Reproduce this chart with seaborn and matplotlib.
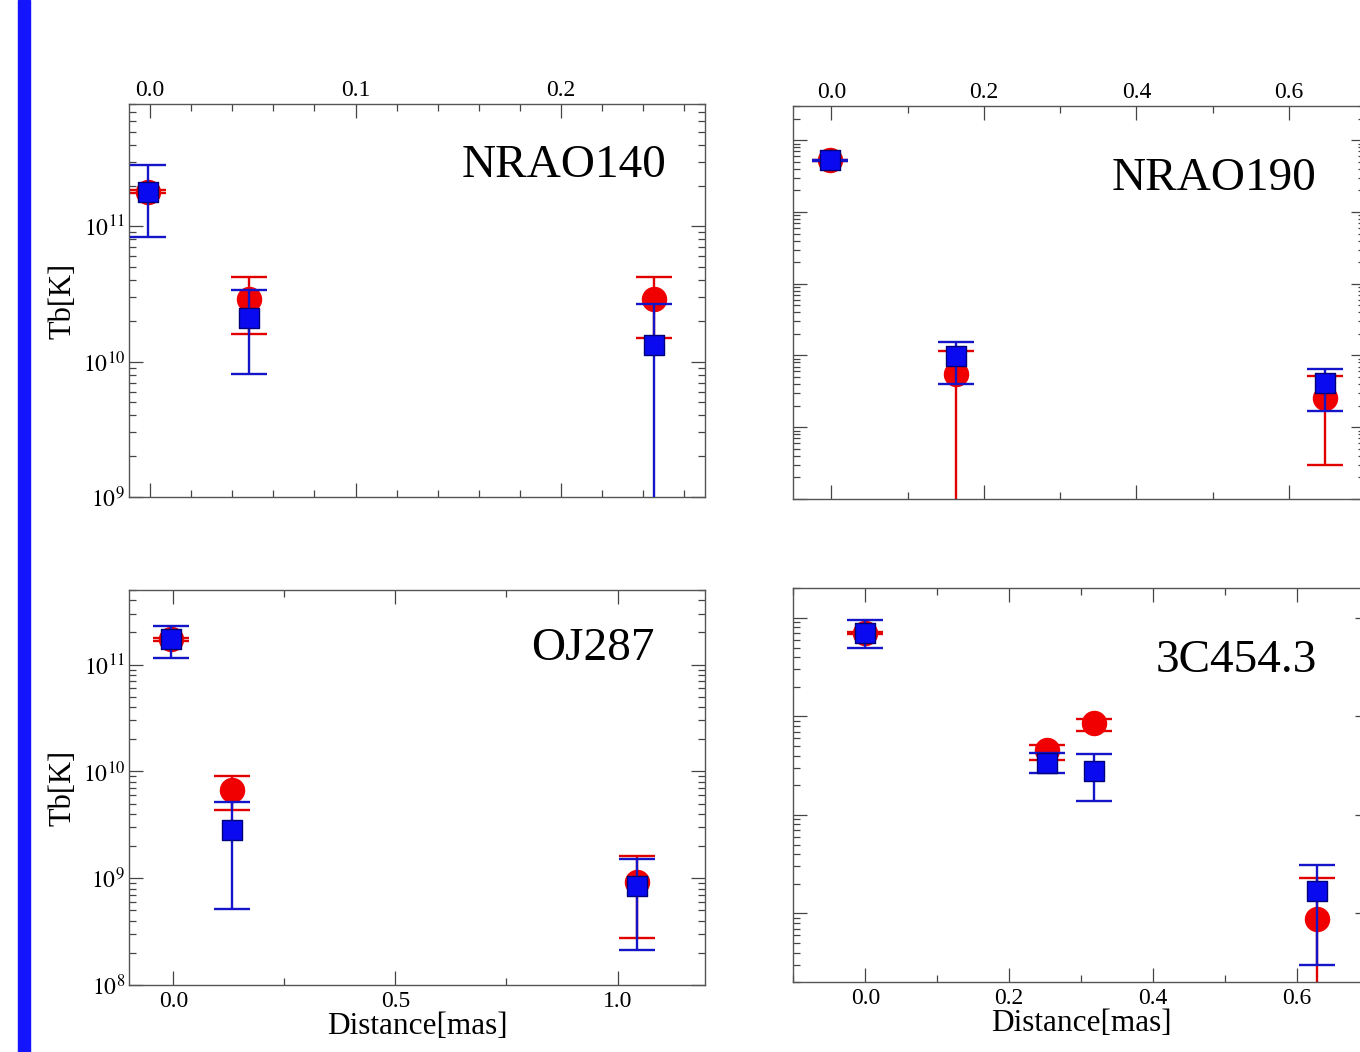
import numpy as np
import seaborn as sns
import matplotlib.pyplot as plt
from matplotlib.patches import Rectangle
from matplotlib.ticker import (MultipleLocator, LogLocator, NullFormatter,
                               FuncFormatter, FormatStrFormatter)

# --- data (Tb in K, distance in mas) ---
# red circles / blue squares, with lower and upper ends of the error bars
# a lower end of 1e5 means the bar runs off the bottom of the panel

nrao140_x = [-0.001, 0.048, 0.245]
nrao140_red = [1.8e11, 2.9e10, 2.9e10]
nrao140_red_lo = [1.75e11, 1.6e10, 1.5e10]
nrao140_red_hi = [1.85e11, 4.2e10, 4.2e10]
nrao140_blue = [1.8e11, 2.1e10, 1.33e10]
nrao140_blue_lo = [8.3e10, 8.1e9, 1e5]
nrao140_blue_hi = [2.85e11, 3.4e10, 2.65e10]

nrao190_x = [-0.002, 0.1635, 0.648]
nrao190_red = [5.25e11, 5.6e8, 2.57e8]
nrao190_red_lo = [5.15e11, 1e3, 2.96e7]
nrao190_red_hi = [5.35e11, 1.14e9, 5.1e8]
nrao190_blue = [5.25e11, 9.7e8, 4.1e8]
nrao190_blue_lo = [5.15e11, 4.0e8, 1.67e8]
nrao190_blue_hi = [5.35e11, 1.54e9, 6.5e8]

oj287_x = [-0.005, 0.133, 1.045]
oj287_red = [1.72e11, 6.7e9, 9.2e8]
oj287_red_lo = [1.68e11, 4.37e9, 2.75e8]
oj287_red_hi = [1.76e11, 9.1e9, 1.6e9]
oj287_blue = [1.72e11, 2.84e9, 8.5e8]
oj287_blue_lo = [1.16e11, 5.1e8, 2.15e8]
oj287_blue_hi = [2.3e11, 5.2e9, 1.5e9]

c3c454_x = [0.0, 0.252, 0.3185, 0.628]
c3c454_red = [7.1e11, 4.6e10, 8.6e10, 8.7e8]
c3c454_red_lo = [6.95e11, 3.63e10, 7.2e10, 1e5]
c3c454_red_hi = [7.25e11, 5.16e10, 9.5e10, 2.27e9]
c3c454_blue = [7.1e11, 3.37e10, 2.8e10, 1.7e9]
c3c454_blue_lo = [4.9e11, 2.66e10, 1.39e10, 3.0e8]
c3c454_blue_hi = [9.6e11, 4.25e10, 4.2e10, 3.1e9]

sns.set_style("white")
plt.rcParams['font.family'] = ['Liberation Serif', 'DejaVu Serif']
plt.rcParams['mathtext.fontset'] = 'stix'
plt.rcParams['text.color'] = 'black'
plt.rcParams['axes.labelcolor'] = 'black'
plt.rcParams['xtick.labelcolor'] = 'black'
plt.rcParams['ytick.labelcolor'] = 'black'

RED = '#f00000'
BLUE = '#0a0af0'

fig = plt.figure(figsize=(13.6, 10.52), dpi=100)
fig.add_artist(Rectangle((18 / 1360, 0), 12 / 1360, 1, transform=fig.transFigure,
                         color='#1414ff', zorder=10))


def draw_panel(rect, x, red, red_lo, red_hi, blue, blue_lo, blue_hi,
               name, name_xy, xlim, ylim, xmajor, xminor, top, left):
    ax = fig.add_axes(rect)
    ax.set_yscale('log')

    series = [(red, red_lo, red_hi, RED, '#e00000', 'o', 300, RED, 2),
              (blue, blue_lo, blue_hi, BLUE, '#1414c8', 's', 210, '#00007a', 4)]
    for y, lo, hi, fc, lc, mk, size, ec, z in series:
        y = np.array(y)
        yerr = [y - np.array(lo), np.array(hi) - y]
        ax.errorbar(x, y, yerr=yerr, fmt='none', ecolor=lc, elinewidth=1.7,
                    capsize=13, capthick=1.7, zorder=z)
        sns.scatterplot(x=x, y=y, marker=mk, s=size, color=fc, edgecolor=ec,
                        linewidth=1.0, ax=ax, zorder=z + 0.5, legend=False)

    ax.set_xlim(*xlim)
    ax.set_ylim(*ylim)
    ax.xaxis.set_major_locator(MultipleLocator(xmajor))
    ax.xaxis.set_minor_locator(MultipleLocator(xminor))
    ax.xaxis.set_major_formatter(FormatStrFormatter('%.1f'))
    ax.yaxis.set_major_locator(LogLocator(base=10, numticks=20))
    ax.yaxis.set_minor_locator(LogLocator(base=10, subs=np.arange(2, 10), numticks=20))
    ax.yaxis.set_minor_formatter(NullFormatter())
    ax.yaxis.set_major_formatter(
        FuncFormatter(lambda v, p: r'$10^{%d}$' % int(round(np.log10(v)))))

    ax.tick_params(which='both', direction='in', top=True, right=True,
                   bottom=True, left=True, color='#444444', width=0.9,
                   labelsize=17)
    ax.tick_params(which='major', length=10)
    ax.tick_params(which='minor', length=5)
    if top:
        ax.tick_params(axis='x', labeltop=True, labelbottom=False, pad=2)
    else:
        ax.tick_params(axis='x', pad=4)
        ax.set_xlabel('Distance[mas]', fontsize=22.5)
        ax.xaxis.set_label_coords(0.5, -0.068)
    if left:
        ax.tick_params(axis='y', pad=3)
        ax.set_ylabel('Tb[K]', fontsize=22)
        ax.yaxis.set_label_coords(-0.09, 0.5)
    else:
        ax.tick_params(axis='y', labelleft=False)
        ax.set_ylabel('')

    for sp in ax.spines.values():
        sp.set_color('#555555')
        sp.set_linewidth(1.0)

    ax.text(name_xy[0], name_xy[1], name, transform=ax.transAxes,
            ha='right', va='baseline', fontsize=34, color='black')
    return ax


draw_panel([129 / 1360, 555 / 1052, 576 / 1360, 393 / 1052],
           nrao140_x, nrao140_red, nrao140_red_lo, nrao140_red_hi,
           nrao140_blue, nrao140_blue_lo, nrao140_blue_hi,
           'NRAO140', (0.9335, 0.814), (-0.0102, 0.270), (1e9, 8e11),
           0.1, 0.02, top=True, left=True)

draw_panel([793.3 / 1360, 553 / 1052, 571.7 / 1360, 393 / 1052],
           nrao190_x, nrao190_red, nrao190_red_lo, nrao190_red_hi,
           nrao190_blue, nrao190_blue_lo, nrao190_blue_hi,
           'NRAO190', (0.9155, 0.786), (-0.05, 0.7), (1e7, 3e12),
           0.2, 0.1, top=True, left=False)

draw_panel([129 / 1360, 67 / 1052, 576 / 1360, 395 / 1052],
           oj287_x, oj287_red, oj287_red_lo, oj287_red_hi,
           oj287_blue, oj287_blue_lo, oj287_blue_hi,
           'OJ287', (0.913, 0.823), (-0.1, 1.197), (1e8, 5e11),
           0.5, 0.25, top=False, left=True)

draw_panel([793.3 / 1360, 69.7 / 1052, 575.7 / 1360, 394 / 1052],
           c3c454_x, c3c454_red, c3c454_red_lo, c3c454_red_hi,
           c3c454_blue, c3c454_blue_lo, c3c454_blue_hi,
           '3C454.3', (0.909, 0.788), (-0.1, 0.7), (2e8, 2e12),
           0.2, 0.1, top=False, left=False)

fig.savefig('out.png', dpi=100)
